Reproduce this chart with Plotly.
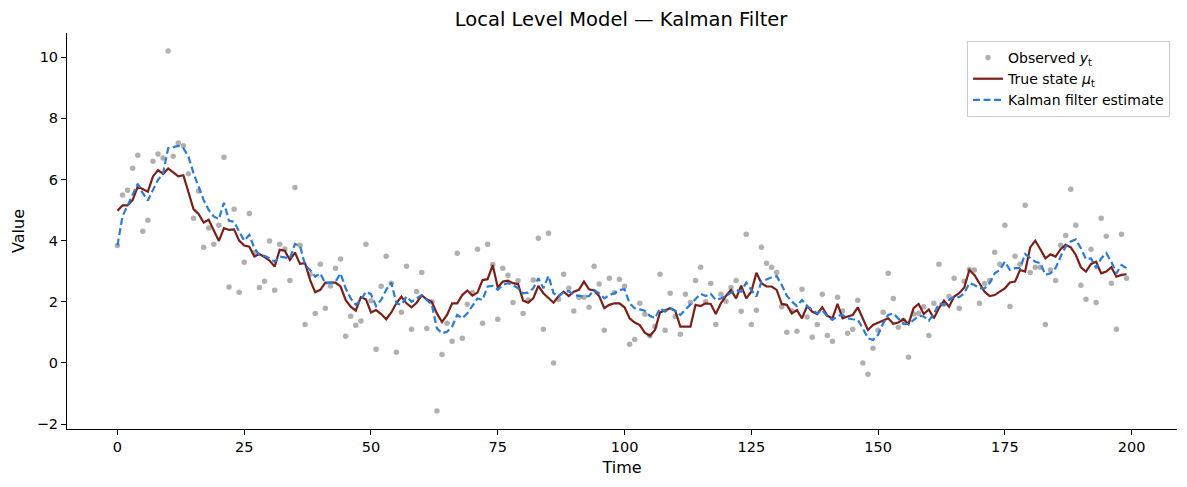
import plotly.graph_objects as go

# time index 0..199
time = list(range(200))

observed = [
    3.84, 5.49, 5.65, 6.37, 6.79, 4.31, 4.67, 6.60, 6.83, 6.70,
    10.2, 6.76, 7.19, 7.10, 6.19, 4.73, 5.62, 3.78, 4.41, 3.88,
    4.50, 6.73, 2.48, 5.03, 2.31, 3.29, 4.89, 3.60, 2.47, 2.67,
    3.99, 2.38, 3.88, 3.73, 2.70, 5.74, 3.85, 1.26, 2.90, 1.62,
    3.23, 1.79, 2.52, 3.10, 3.40, 0.87, 1.53, 1.23, 1.37, 3.88,
    2.03, 0.45, 2.51, 3.49, 2.61, 0.35, 1.66, 3.16, 1.10, 2.34,
    2.96, 1.13, 2.00, -1.57, 0.28, 1.30, 0.71, 3.59, 0.81, 1.92,
    2.30, 3.72, 1.30, 3.88, 3.22, 1.43, 3.10, 2.87, 1.98, 2.69,
    1.62, 2.06, 2.71, 4.08, 1.10, 4.24, 0.00, 2.08, 2.90, 2.44,
    1.70, 2.15, 2.15, 1.82, 3.16, 2.58, 1.07, 2.77, 2.30, 2.74,
    2.51, 0.61, 0.77, 1.95, 1.59, 0.89, 1.19, 2.90, 1.07, 2.28,
    1.52, 0.94, 2.25, 1.98, 2.70, 3.13, 2.00, 2.60, 1.26, 2.25,
    2.02, 2.47, 2.70, 1.69, 4.21, 1.26, 1.72, 3.78, 3.26, 3.13,
    2.96, 1.84, 1.00, 1.70, 1.04, 2.41, 1.50, 0.84, 1.26, 2.25,
    0.90, 0.71, 2.15, 1.70, 0.97, 1.10, 2.05, 0.00, -0.37, 0.48,
    1.07, 1.66, 2.93, 2.11, 1.17, 1.40, 0.19, 1.60, 1.62, 1.84,
    0.90, 1.95, 3.23, 1.92, 2.17, 2.77, 1.79, 2.67, 3.06, 3.04,
    1.95, 2.60, 2.70, 3.62, 3.23, 4.50, 1.85, 3.49, 3.23, 5.16,
    2.96, 3.13, 3.13, 1.26, 3.04, 2.70, 3.85, 4.17, 5.68, 4.50,
    2.54, 2.08, 3.72, 1.98, 4.73, 4.14, 2.61, 1.10, 4.21, 2.77,
]

true_state = [
    4.98, 5.15, 5.15, 5.33, 5.77, 5.69, 5.60, 6.10, 6.31, 6.18,
    6.36, 6.23, 6.10, 6.14, 5.60, 5.03, 4.87, 4.59, 4.68, 4.35,
    3.99, 4.41, 4.35, 4.37, 4.00, 3.84, 3.80, 3.48, 3.56, 3.46,
    3.35, 3.15, 3.70, 3.67, 3.37, 3.61, 3.24, 3.26, 2.71, 2.31,
    2.39, 2.63, 2.63, 2.63, 2.50, 2.06, 1.84, 1.71, 2.15, 2.08,
    1.65, 1.73, 1.60, 1.43, 1.65, 1.95, 2.17, 1.95, 1.82, 1.97,
    2.21, 2.08, 1.99, 1.62, 1.34, 1.57, 1.95, 1.95, 2.22, 2.37,
    2.20, 2.30, 2.71, 2.74, 3.20, 2.47, 2.66, 2.69, 2.61, 2.58,
    2.04, 1.97, 2.11, 2.52, 2.28, 2.11, 1.97, 2.19, 2.33, 2.19,
    2.33, 2.39, 2.66, 2.41, 2.37, 2.19, 1.79, 1.90, 1.95, 1.95,
    1.82, 1.46, 1.32, 1.24, 0.99, 0.89, 1.08, 1.65, 1.71, 1.79,
    1.71, 1.19, 1.19, 1.19, 1.90, 1.86, 1.95, 1.93, 1.60, 1.95,
    2.19, 2.39, 2.11, 2.53, 2.11, 2.33, 2.95, 2.61, 2.50, 2.50,
    2.39, 1.93, 1.90, 1.62, 1.73, 1.46, 1.86, 1.68, 1.60, 1.82,
    1.54, 1.46, 1.93, 1.46, 1.52, 1.57, 1.82, 1.43, 1.08, 1.24,
    1.32, 1.38, 1.46, 1.28, 1.32, 1.43, 1.27, 1.79, 1.93, 1.60,
    1.75, 1.46, 1.79, 2.04, 1.84, 2.17, 2.28, 2.47, 3.04, 2.88,
    2.58, 2.33, 2.19, 2.22, 2.33, 2.44, 2.63, 2.66, 3.04, 2.99,
    3.78, 4.00, 3.72, 3.42, 3.55, 3.48, 3.72, 3.86, 3.78, 3.53,
    3.13, 2.99, 3.24, 3.31, 2.93, 2.99, 3.13, 2.82, 2.88, 2.90,
]

kalman = [
    3.84, 4.80, 5.15, 5.50, 5.86, 5.55, 5.31, 5.66, 5.99, 6.20,
    7.02, 7.06, 7.10, 7.02, 6.75, 6.20, 5.77, 5.33, 5.00, 4.79,
    4.70, 5.24, 4.65, 4.62, 4.30, 4.00, 4.19, 3.75, 3.53, 3.50,
    3.42, 3.31, 3.48, 3.46, 3.42, 3.89, 3.83, 3.20, 3.04, 2.82,
    2.93, 2.60, 2.63, 2.66, 2.93, 2.44, 2.11, 1.90, 2.06, 2.33,
    2.25, 1.86, 2.06, 2.39, 2.63, 1.95, 1.90, 2.17, 2.00, 2.11,
    2.22, 2.06, 1.90, 1.13, 0.97, 1.02, 1.19, 1.57, 1.46, 1.62,
    1.86, 2.11, 2.06, 2.50, 2.52, 2.39, 2.55, 2.61, 2.55, 2.44,
    2.28, 2.30, 2.44, 2.77, 2.44, 2.85, 2.28, 2.17, 2.33, 2.35,
    2.22, 2.19, 2.17, 2.19, 2.39, 2.28, 2.11, 2.22, 2.28, 2.39,
    2.41, 1.95, 1.79, 1.75, 1.71, 1.54, 1.46, 1.79, 1.68, 1.79,
    1.71, 1.57, 1.75, 1.90, 2.08, 2.26, 2.19, 2.26, 2.06, 2.11,
    2.19, 2.28, 2.39, 2.33, 2.63, 2.39, 2.17, 2.66, 2.74, 2.80,
    2.84, 2.55, 2.20, 2.01, 1.86, 2.06, 1.86, 1.73, 1.62, 1.73,
    1.52, 1.41, 1.54, 1.57, 1.46, 1.43, 1.41, 1.13, 0.81, 0.75,
    0.92, 1.30, 1.57, 1.62, 1.46, 1.28, 1.27, 1.41, 1.54, 1.52,
    1.38, 1.60, 1.95, 1.90, 2.06, 2.17, 2.15, 2.28, 2.61, 2.55,
    2.44, 2.44, 2.61, 2.93, 3.04, 3.31, 3.04, 3.10, 3.10, 3.56,
    3.42, 3.31, 3.26, 2.88, 2.93, 3.10, 3.48, 3.80, 3.97, 4.04,
    3.75, 3.39, 3.42, 3.10, 3.42, 3.59, 3.31, 2.93, 3.20, 3.10,
]

x_ticks = [0, 25, 50, 75, 100, 125, 150, 175, 200]
y_ticks = [-2, 0, 2, 4, 6, 8, 10]

fig = go.Figure()
fig.add_trace(go.Scatter(x=time, y=observed, mode='markers',
                         name='Observed <i>y</i><sub>t</sub>',
                         marker=dict(color='rgba(128,128,128,0.62)', size=5.5)))
fig.add_trace(go.Scatter(x=time, y=true_state, mode='lines',
                         name='True state <i>μ</i><sub>t</sub>',
                         line=dict(color='#7b1f17', width=2.2)))
fig.add_trace(go.Scatter(x=time, y=kalman, mode='lines',
                         name='Kalman filter estimate',
                         line=dict(color='#2a7bd8', width=2.2, dash='7px,3.5px')))

axis_style = dict(showline=True, linecolor='black', linewidth=1, mirror=False,
                  showgrid=False, zeroline=False, ticks='outside', ticklen=5,
                  tickcolor='black', tickfont=dict(size=14.5, color='black'),
                  automargin=False)

# page body keeps an 8px margin, so the figure is a bit smaller than the window
fig.update_layout(
    width=1179, height=479,
    margin=dict(l=59, r=10, t=25, b=58),
    paper_bgcolor='white', plot_bgcolor='white',
    font=dict(family='DejaVu Sans', color='black'),
    title=dict(text='Local Level Model — Kalman Filter', x=0.52, xanchor='center',
               y=0.977, yanchor='middle', font=dict(size=19.5)),
    showlegend=True,
    legend=dict(x=0.9937, y=0.98, xanchor='right', yanchor='top',
                bgcolor='rgba(255,255,255,0.8)', bordercolor='#cccccc', borderwidth=1,
                font=dict(size=14), tracegroupgap=2),
)
fig.update_xaxes(range=[-9.95, 208.95], tickvals=x_ticks,
                 title=dict(text='Time', font=dict(size=16), standoff=7), **axis_style)
fig.update_yaxes(range=[-2.16, 10.79], tickvals=y_ticks,
                 ticktext=[str(v).replace('-', '−') for v in y_ticks],
                 title=dict(text='Value', font=dict(size=16), standoff=8), **axis_style)

fig.write_html("out.html")
